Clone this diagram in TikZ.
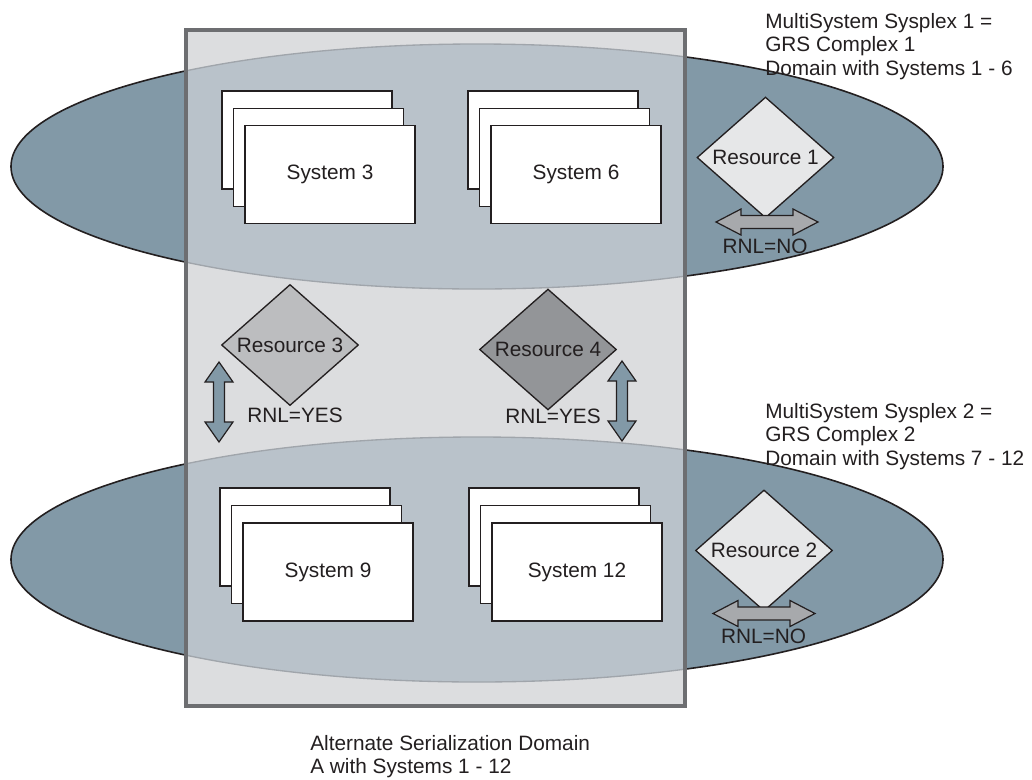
\documentclass[tikz,border=0pt]{standalone}
\usepackage{fontspec}
\setmainfont{Liberation Sans}
\usetikzlibrary{shapes.geometric}
\definecolor{ellfill}{HTML}{8299A7}
\definecolor{ovfill}{HTML}{B9C2CA}
\definecolor{rectfill}{HTML}{DCDDDF}
\definecolor{rectline}{HTML}{6D6E71}
\definecolor{ovline}{HTML}{A0A5AB}
\definecolor{ink}{HTML}{231F20}
\definecolor{reslight}{HTML}{E6E7E8}
\definecolor{resmid}{HTML}{BCBDBF}
\definecolor{resdark}{HTML}{939598}
\definecolor{harrowfill}{HTML}{A7A9AC}
\begin{document}
\begin{tikzpicture}[x=0.75pt,y=-0.75pt,
  font=\fontsize{15.6pt}{17.6pt}\selectfont, text=ink,
  sysbox/.style={draw=ink, line width=1.4pt, fill=white, minimum width=170*0.75pt, minimum height=98*0.75pt, inner sep=0pt},
  res/.style={diamond, draw=ink, line width=1pt, minimum width=137*0.75pt, minimum height=105*0.75pt, inner sep=0pt},
  lbl/.style={inner sep=0pt, align=left, anchor=north west},
  harrow/.style={fill=harrowfill, draw=ink, line width=0.9pt},
  varrow/.style={fill=ellfill, draw=ink, line width=0.9pt},
  ell/.style={fill=ellfill, draw=ink, line width=1.2pt},
  pics/hdbl/.style={code={\draw[harrow] (-51,0) -- (-26,-13) -- (-26,-6.5) -- (26,-6.5) -- (26,-13) -- (51,0) -- (26,13) -- (26,6.5) -- (-26,6.5) -- (-26,13) -- cycle;}},
  pics/vdbl/.style={code={\draw[varrow] (0,-40) -- (14,-20) -- (5.5,-20) -- (5.5,20) -- (14,20) -- (0,40) -- (-14,20) -- (-5.5,20) -- (-5.5,-20) -- (-14,-20) -- cycle;}}
]
\useasboundingbox (0,0) rectangle (1032,779);
% sysplex ellipses
\coordinate (plex1) at (477,166.5);
\coordinate (plex2) at (477,559.5);
\coordinate (asdNW) at (186,30);
\coordinate (asdSE) at (685,706);
\path[ell] (plex1) ellipse [x radius=466, y radius=122.5];
\path[ell] (plex2) ellipse [x radius=466, y radius=122.5];
% alternate serialization domain
\fill[rectfill] (asdNW) rectangle (asdSE);
\begin{scope}
  \clip (asdNW) rectangle (asdSE);
  \path[fill=ovfill, draw=ovline, line width=1pt] (plex1) ellipse [x radius=466, y radius=122.5];
  \path[fill=ovfill, draw=ovline, line width=1pt] (plex2) ellipse [x radius=466, y radius=122.5];
\end{scope}
\draw[rectline, line width=2.4pt] (asdNW) rectangle (asdSE);
% systems
\node[sysbox] (s3c) at (307,140) {};
\node[sysbox] (s3b) at (318.5,157.5) {};
\node[sysbox] (s3a) at (330,174.5) {System 3};
\node[sysbox] (s6c) at (553,140) {};
\node[sysbox] (s6b) at (564.5,157.5) {};
\node[sysbox] (s6a) at (576,174.5) {System 6};
\node[sysbox] (s9c) at (305,537) {};
\node[sysbox] (s9b) at (316.5,554.5) {};
\node[sysbox] (s9a) at (328,572) {System 9};
\node[sysbox] (s12c) at (554,537) {};
\node[sysbox] (s12b) at (565.5,554.5) {};
\node[sysbox] (s12a) at (577,572) {System 12};
% resources
\node[res, fill=reslight] (r1) at (765.5,157.5) {Resource 1};
\node[res, fill=resmid] (r3) at (290,345) {Resource 3};
\node[res, fill=resdark] (r4) at (548,349.5) {Resource 4};
\node[res, fill=reslight] (r2) at (764,550.5) {Resource 2};
% RNL arrows
\pic (a1) at (767,222) {hdbl};
\pic (a2) at (764,613.5) {hdbl};
\pic (a3) at (219,402) {vdbl};
\pic (a4) at (622,401) {vdbl};
\node (rnl1) at (765,246.5) {RNL=NO};
\node (rnl2) at (763.5,636.5) {RNL=NO};
\node (rnl3) at (295,415) {RNL=YES};
\node (rnl4) at (553,416) {RNL=YES};
% texts
\node[lbl] (t1) at (765,13) {MultiSystem Sysplex 1 =\\GRS Complex 1\\Domain with Systems 1 - 6};
\node[lbl] (t2) at (765,403) {MultiSystem Sysplex 2 =\\GRS Complex 2\\Domain with Systems 7 - 12};
\node[lbl] (t3) at (310,735) {Alternate Serialization Domain\\A with Systems 1 - 12};
\end{tikzpicture}
\end{document}
